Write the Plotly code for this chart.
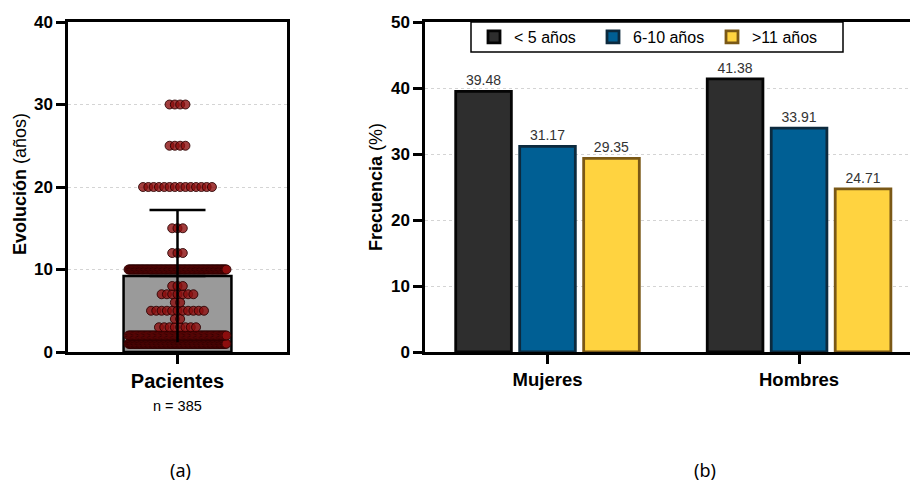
import plotly.graph_objects as go

# ---------------- data ----------------
# Panel (a): Evolución (años) – swarm of patients + mean bar with SD
evol_values = [1, 2, 3, 4, 5, 6, 7, 8, 10, 12, 15, 20, 25, 30]
evol_counts = [121, 82, 8, 2, 11, 2, 7, 3, 120, 3, 3, 14, 4, 4]
evol_mean = [9.2]
evol_sd = [8.0]
panel_a_category = ["Pacientes"]
n_label = "n = 385"

# Panel (b): Frecuencia (%) by sex and evolution group
sexes = ["Mujeres", "Hombres"]
group_names = ["< 5 años", "6-10 años", ">11 años"]
freq_lt5 = [39.48, 41.38]
freq_6_10 = [31.17, 33.91]
freq_gt11 = [29.35, 24.71]

# ---------------- styling ----------------
W, H = 910, 487
FONT = "Liberation Sans, Arial, sans-serif"


def px_x(p):
    return p / W


def px_y(p):
    return 1 - p / H


fig = go.Figure()

# --- Panel (a) bar (mean) ---
fig.add_trace(go.Bar(
    x=[0], y=evol_mean, width=0.985,
    marker=dict(color="#9a9a9a", line=dict(color="black", width=2.5)),
    xaxis="x", yaxis="y", showlegend=False,
))

# --- Panel (a) swarm points ---
px_per_unit = 219 / 2.0
d = 5.3 / px_per_unit          # nominal spacing between dot centres
half_span = 49 / px_per_unit   # max half width of a row
xs, ys = [], []
for v, n in zip(evol_values, evol_counts):
    if n == 1:
        offs = [0.0]
    else:
        s = min(d, 2 * half_span / (n - 1))
        offs = [(i - (n - 1) / 2) * s for i in range(n)]
    xs.extend(offs)
    ys.extend([v] * n)

fig.add_trace(go.Scatter(
    x=xs, y=ys, mode="markers",
    marker=dict(size=9, color="rgba(140,14,14,0.8)",
                line=dict(color="rgba(40,0,0,0.85)", width=1)),
    xaxis="x", yaxis="y", showlegend=False, cliponaxis=False,
))

# --- Panel (a) error bar (upper with cap, lower without cap) ---
fig.add_trace(go.Scatter(
    x=[0], y=evol_mean, mode="markers",
    marker=dict(size=1, color="rgba(0,0,0,0)"),
    error_y=dict(type="data", symmetric=False, array=evol_sd, arrayminus=[0],
                 color="black", thickness=2.5, width=28),
    xaxis="x", yaxis="y", showlegend=False,
))
fig.add_trace(go.Scatter(
    x=[0], y=evol_mean, mode="markers",
    marker=dict(size=1, color="rgba(0,0,0,0)"),
    error_y=dict(type="data", symmetric=False, array=[0], arrayminus=evol_sd,
                 color="black", thickness=2.5, width=0),
    xaxis="x", yaxis="y", showlegend=False,
))

# --- Panel (b) grouped bars ---
series = [
    (group_names[0], freq_lt5, "#2e2e2e", "#050505"),
    (group_names[1], freq_6_10, "#005f94", "#0c2a3e"),
    (group_names[2], freq_gt11, "#ffd340", "#7a5816"),
]
for name, vals, fill, edge in series:
    fig.add_trace(go.Bar(
        x=sexes, y=vals, name=name,
        marker=dict(color=fill, line=dict(color=edge, width=2.8)),
        text=[f"{v:.2f}" for v in vals], textposition="outside",
        textfont=dict(family=FONT, size=14, color="#333333"),
        cliponaxis=False,
        xaxis="x2", yaxis="y2",
    ))

ydom = [px_y(352), px_y(22)]

axis_common = dict(
    showline=True, linecolor="black", linewidth=2.5,
    ticks="outside", tickcolor="black", tickwidth=2.5, ticklen=9,
    zeroline=False, automargin=False,
)


def label(text, x, y, size, family=FONT, angle=0, xref="paper"):
    return dict(text=text, textangle=angle, x=x, y=y, xref=xref, yref="paper",
                xanchor="center", yanchor="middle", showarrow=False,
                font=dict(family=family, size=size, color="black"))


fig.update_layout(
    width=W, height=H,
    margin=dict(l=0, r=0, t=0, b=0, autoexpand=False),
    paper_bgcolor="white", plot_bgcolor="white",
    barmode="group", bargap=0.237, bargroupgap=0.13,
    font=dict(family=FONT, color="black"),
    xaxis=dict(
        domain=[px_x(68), px_x(287)], range=[-1.0, 1.0],
        tickvals=[0], ticktext=panel_a_category,
        tickfont=dict(family=FONT, size=20, weight="bold"),
        showgrid=False, mirror=True, ticklabelstandoff=0,
        **axis_common,
    ),
    yaxis=dict(
        domain=ydom, range=[0, 40], tickvals=[0, 10, 20, 30, 40],
        tickfont=dict(family=FONT, size=17, weight="bold"),
        showgrid=True, gridcolor="#d4d4d4", gridwidth=1, griddash="dot",
        mirror=True,
        **axis_common,
    ),
    xaxis2=dict(
        domain=[px_x(425), 1.0], range=[-0.487, 1.441],
        type="category",
        tickfont=dict(family=FONT, size=18.5, weight="bold"),
        showgrid=False, mirror=True, ticklabelstandoff=0,
        **axis_common,
    ),
    yaxis2=dict(
        domain=ydom, range=[0, 50], tickvals=[0, 10, 20, 30, 40, 50],
        tickfont=dict(family=FONT, size=17, weight="bold"),
        showgrid=True, gridcolor="#d4d4d4", gridwidth=1, griddash="dot",
        anchor="x2",
        **axis_common,
    ),
    legend=dict(
        orientation="h", x=px_x(474), xanchor="left",
        y=px_y(37), yanchor="middle",
        font=dict(family=FONT, size=16, color="black"),
        bgcolor="rgba(0,0,0,0)", borderwidth=0,
        traceorder="normal", entrywidth=74, entrywidthmode="pixels",
    ),
    shapes=[dict(
        type="rect", xref="paper", yref="paper",
        x0=px_x(471), x1=px_x(843), y0=px_y(52), y1=px_y(22),
        line=dict(color="black", width=1.5), fillcolor="white", layer="below",
    )],
    annotations=[
        label("<b>Evolución</b> (años)", px_x(20), px_y(184), 18, angle=-90),
        label("<b>Frecuencia</b> (%)", px_x(376), px_y(187), 18, angle=-90),
        label(n_label, 0, px_y(406), 14.5, xref="x"),
        label("(a)", px_x(180), px_y(470), 18, family="Noto Sans, Open Sans"),
        label("(b)", px_x(705), px_y(470), 18, family="Noto Sans, Open Sans"),
    ],
)

fig.write_html(
    "out.html",
    config={"displayModeBar": False},
    post_script="document.body.style.margin='0';document.body.style.overflow='hidden';",
)
